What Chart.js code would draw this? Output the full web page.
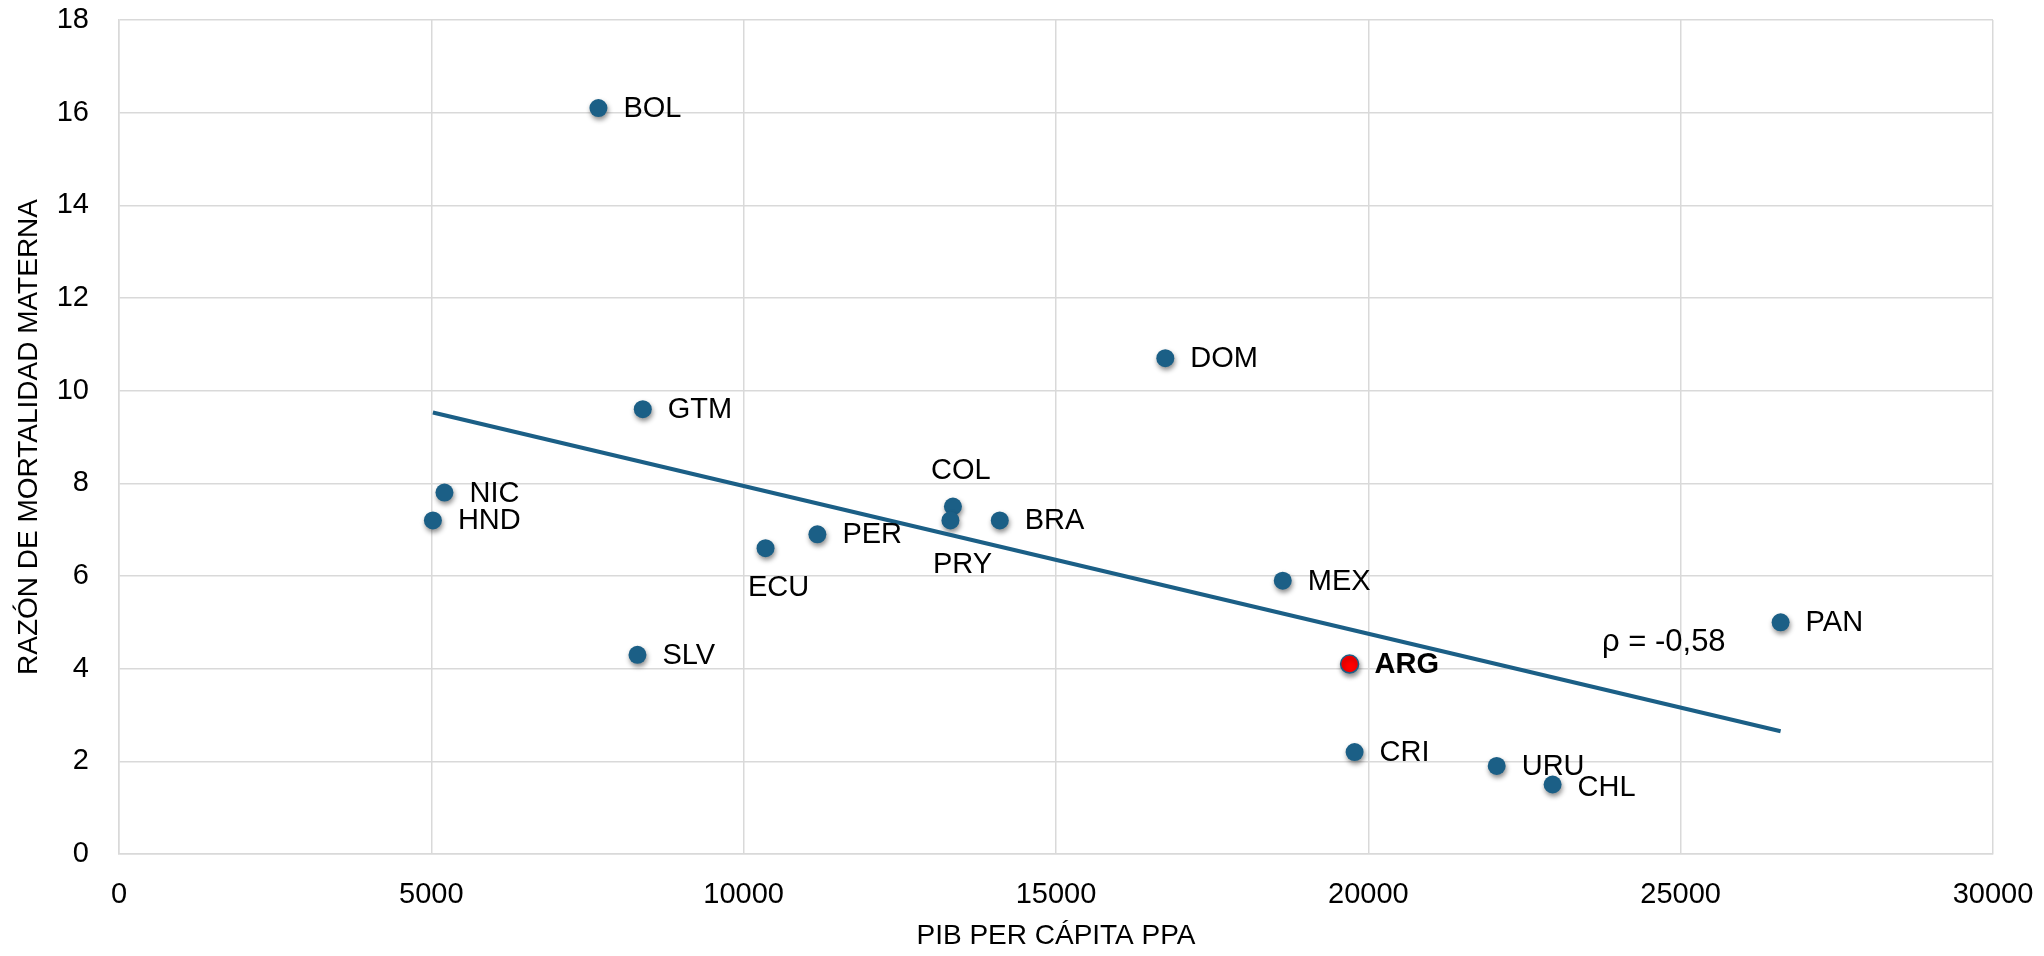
<!DOCTYPE html>
<html lang="es">
<head>
  <meta charset="utf-8" />
  <title>Mortalidad materna vs PIB per cápita</title>
  <script src="https://cdn.jsdelivr.net/npm/chart.js"></script>
  <style>
    html, body { margin: 0; background: #fff; }
    #wrap { width: 2044px; height: 956px; position: relative; }
  </style>
</head>
<body>
  <div id="wrap"><canvas id="chart"></canvas></div>
  <script>
    // data
    const countries = ['BOL', 'GTM', 'NIC', 'HND', 'SLV', 'ECU', 'PER', 'COL', 'PRY', 'BRA', 'DOM', 'MEX', 'ARG', 'CRI', 'URU', 'CHL', 'PAN'];
    const gdpPpp = [7675, 8385, 5210, 5025, 8300, 10350, 11180, 13350, 13310, 14100, 16750, 18630, 19700, 19780, 22055, 22950, 26600];
    const mmr = [16.1, 9.6, 7.8, 7.2, 4.3, 6.6, 6.9, 7.5, 7.2, 7.2, 10.7, 5.9, 4.1, 2.2, 1.9, 1.5, 5.0];
    const trendX = [5025, 26600];
    const trendY = [9.53, 2.65];
    const rhoText = 'ρ = -0,58';
    const rhoPos = [24730, 4.56];
    const xTicks = [0, 5000, 10000, 15000, 20000, 25000, 30000];

    // label placement (pixels): dx, dy, align
    const labelPos = {
      ECU: [13, 40, 'center'],
      COL: [8, -36, 'center'],
      PRY: [12, 45, 'center'],
      CHL: [25, 3, 'left']
    };

    const blue = '#1b5f86';
    const font = '"Liberation Sans", Arial, sans-serif';

    const pts = countries.map((c, i) => ({ x: gdpPpp[i], y: mmr[i] }));

    const shadow = {
      id: 'shadow',
      beforeDatasetDraw(chart, args) {
        if (args.index !== 1) return;
        const ctx = chart.ctx;
        ctx.save();
        ctx.shadowColor = 'rgba(0,0,0,0.45)';
        ctx.shadowBlur = 5;
        ctx.shadowOffsetX = 1;
        ctx.shadowOffsetY = 3;
      },
      afterDatasetDraw(chart, args) {
        if (args.index === 1) chart.ctx.restore();
      }
    };

    const labels = {
      id: 'labels',
      afterDatasetsDraw(chart) {
        const ctx = chart.ctx;
        const meta = chart.getDatasetMeta(1);
        ctx.save();
        ctx.fillStyle = '#000';
        ctx.textBaseline = 'middle';
        countries.forEach((c, i) => {
          const p = meta.data[i];
          const [dx, dy, align] = labelPos[c] || [25, 1, 'left'];
          ctx.font = (c === 'ARG' ? 'bold ' : '') + '29px ' + font;
          ctx.textAlign = align;
          ctx.fillText(c, p.x + dx, p.y + dy);
        });
        ctx.font = '31px ' + font;
        ctx.textAlign = 'center';
        ctx.fillText(rhoText, chart.scales.x.getPixelForValue(rhoPos[0]), chart.scales.y.getPixelForValue(rhoPos[1]));
        ctx.restore();
      }
    };

    new Chart(document.getElementById('chart'), {
      type: 'scatter',
      data: {
        datasets: [
          {
            type: 'line',
            data: trendX.map((x, i) => ({ x, y: trendY[i] })),
            borderColor: blue,
            borderWidth: 4,
            pointRadius: 0,
            fill: false
          },
          {
            data: pts,
            backgroundColor: countries.map(c => c === 'ARG' ? '#ff0000' : blue),
            borderColor: blue,
            borderWidth: countries.map(c => c === 'ARG' ? 1.5 : 0),
            pointRadius: 9
          }
        ]
      },
      options: {
        responsive: true,
        maintainAspectRatio: false,
        animation: false,
        layout: { autoPadding: false, padding: { top: 20, right: 51, left: 0, bottom: 3 } },
        plugins: { legend: { display: false }, tooltip: { enabled: false } },
        scales: {
          x: {
            type: 'linear',
            min: 0, max: 30000,
            afterBuildTicks: s => { s.ticks = xTicks.map(v => ({ value: v })); },
            afterFit: s => { s.height = 99; s.paddingLeft = 0; s.paddingRight = 0; },
            grid: { color: '#d9d9d9', lineWidth: 1.5, drawTicks: false },
            border: { color: '#d9d9d9', width: 1.5 },
            ticks: { color: '#000', font: { family: font, size: 29 }, padding: 24, maxRotation: 0, callback: v => v },
            title: { display: true, text: 'PIB PER CÁPITA PPA', color: '#000', font: { family: font, size: 28 }, padding: { top: 8, bottom: 0 } }
          },
          y: {
            min: 0, max: 18,
            afterFit: s => { s.width = 119; s.paddingTop = 0; s.paddingBottom = 0; },
            ticks: { stepSize: 2, color: '#000', font: { family: font, size: 29 }, padding: 30 },
            grid: { color: '#d9d9d9', lineWidth: 1.5, drawTicks: false },
            border: { color: '#d9d9d9', width: 1.5 },
            title: { display: true, text: 'RAZÓN DE MORTALIDAD MATERNA', color: '#000', font: { family: font, size: 28 }, padding: { top: 12, bottom: 11 } }
          }
        }
      },
      plugins: [shadow, labels]
    });
  </script>
</body>
</html>
